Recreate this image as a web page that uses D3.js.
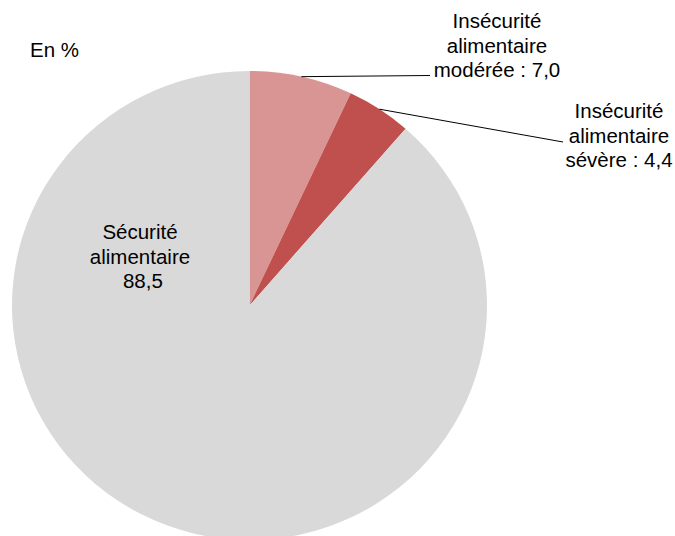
<!DOCTYPE html>
<html><head><meta charset="utf-8">
<script src="https://cdn.jsdelivr.net/npm/d3@7"></script>
<style>body{margin:0;background:#fff}svg{display:block}text{font-family:"Liberation Sans",Arial,sans-serif;fill:#000}</style>
</head><body>
<svg id="c" width="675" height="536"></svg>
<script>
const categories = ["Insécurité alimentaire modérée", "Insécurité alimentaire sévère", "Sécurité alimentaire"];
const values = [7.0, 4.4, 88.5];
const labelLines = [
  ["Insécurité", "alimentaire", "modérée : 7,0"],
  ["Insécurité", "alimentaire", "sévère : 4,4"],
  ["Sécurité", "alimentaire", " 88,5"]
];
const colors = ["#D99594", "#C0504D", "#D9D9D9"];
const unitLabel = "En %";

const svg = d3.select("#c");
const cx = 249.5, cy = 305.5, rx = 237.5, ry = 234.5;
const fs = 20.5, lh = 24.5;

const pie = d3.pie().sort(null).value(d => d)(values);
const arc = d3.arc().innerRadius(0).outerRadius(rx);
const g = svg.append("g").attr("transform", `translate(${cx},${cy}) scale(1,${ry/rx})`);
g.selectAll("path").data(pie).join("path")
  .attr("d", arc).attr("fill", (d,i) => colors[i]);

svg.append("text").attr("x", 30).attr("y", 57).attr("font-size", fs).text(unitLabel);

// label placements (layout)
const labelPos = [
  {x: 497, y: 28, anchor: "middle"},
  {x: 619, y: 118, anchor: "middle"},
  {x: 140, y: 239, anchor: "middle"}
];
const leaders = [
  {frac: 0.5, end: [430, 75.5]},
  {frac: 0.5, end: [563, 142]}
];
leaders.forEach((L, i) => {
  const d = pie[i];
  const a = d.startAngle + (d.endAngle - d.startAngle) * L.frac;
  const px = cx + rx * Math.sin(a), py = cy - ry * Math.cos(a);
  svg.append("line").attr("x1", px).attr("y1", py).attr("x2", L.end[0]).attr("y2", L.end[1])
    .attr("stroke", "#000").attr("stroke-width", 1);
});
labelLines.forEach((lines, i) => {
  const p = labelPos[i];
  const t = svg.append("text").attr("font-size", fs).attr("text-anchor", p.anchor)
    .attr("xml:space", "preserve");
  lines.forEach((s, j) => t.append("tspan").attr("x", p.x).attr("y", p.y + j * lh).text(s));
});
</script>
</body></html>
